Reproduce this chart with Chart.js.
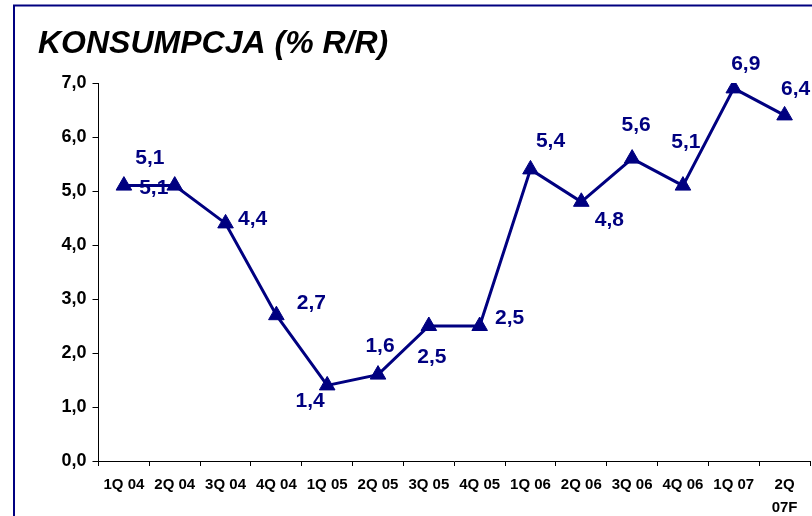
<!DOCTYPE html>
<html><head><meta charset="utf-8">
<script src="https://cdn.jsdelivr.net/npm/chart.js@4.4.1/dist/chart.umd.min.js"></script>
<style>
html,body{margin:0;padding:0;background:#fff;overflow:hidden;width:812px;height:516px;}
#wrap{position:absolute;left:0;top:0;width:820px;height:516px;}
canvas{display:block;}
</style></head><body>
<div id="wrap"><canvas id="c" width="820" height="516" style="width:820px;height:516px"></canvas></div>
<script>
const TITLE = 'KONSUMPCJA (% R/R)';
const categories = ['1Q 04','2Q 04','3Q 04','4Q 04','1Q 05','2Q 05','3Q 05','4Q 05','1Q 06','2Q 06','3Q 06','4Q 06','1Q 07',['2Q','07F']];
const values = [5.1, 5.1, 4.4, 2.7, 1.4, 1.6, 2.5, 2.5, 5.4, 4.8, 5.6, 5.1, 6.9, 6.4];
const yMin = 0, yMax = 7, yStep = 1;

// label placement relative to each point (pixels)
const labelOffsets = [[26,-27],[-21,3],[27,-4],[35,-12],[-17,16],[2,-28],[3,31],[30,-8],[20,-28],[28,18],[4,-33],[3,-43],[12,-24],[11,-26]];

const NAVY = '#000080';
const FONT = '"Liberation Sans", Arial, sans-serif';
const fmt = v => v.toFixed(1).replace('.', ',');

const framePlugin = {
  id: 'frame',
  beforeDraw(chart) {
    const ctx = chart.ctx;
    ctx.save();
    ctx.fillStyle = '#fff';
    ctx.fillRect(0, 0, chart.width, chart.height);
    ctx.strokeStyle = NAVY;
    ctx.lineWidth = 2;
    ctx.beginPath();
    ctx.moveTo(14, chart.height);
    ctx.lineTo(14, 5.5);
    ctx.lineTo(chart.width, 5.5);
    ctx.stroke();
    ctx.fillStyle = '#000';
    ctx.font = 'italic bold 32px ' + FONT;
    ctx.textBaseline = 'alphabetic';
    ctx.textAlign = 'left';
    ctx.fillText(TITLE, 38, 53);
    ctx.restore();
  }
};

const labelPlugin = {
  id: 'pointLabels',
  beforeDatasetsDraw(chart) {
    const ctx = chart.ctx;
    const meta = chart.getDatasetMeta(0);
    ctx.save();
    ctx.fillStyle = NAVY;
    ctx.font = 'bold 21px ' + FONT;
    ctx.textAlign = 'center';
    ctx.textBaseline = 'middle';
    meta.data.forEach((pt, i) => {
      const o = labelOffsets[i];
      ctx.fillText(fmt(values[i]), pt.x + o[0], pt.y + o[1]);
    });
    ctx.restore();
  }
};

new Chart(document.getElementById('c'), {
  type: 'line',
  data: {
    labels: categories,
    datasets: [{
      data: values,
      borderColor: NAVY,
      backgroundColor: NAVY,
      borderWidth: 3,
      pointStyle: 'triangle',
      pointRadius: 9,
      pointHoverRadius: 9,
      pointBackgroundColor: NAVY,
      pointBorderColor: NAVY,
      pointBorderWidth: 1,
      tension: 0,
      fill: false
    }]
  },
  options: {
    responsive: false,
    animation: false,
    devicePixelRatio: 1,
    layout: { padding: { left: 0, top: 83, right: 5.5, bottom: 0 } },
    plugins: { legend: { display: false }, title: { display: false }, tooltip: { enabled: false } },
    scales: {
      x: {
        offset: true,
        grid: { offset: true, drawOnChartArea: false, drawTicks: true, tickLength: 5, color: '#000', lineWidth: 1 },
        border: { display: true, color: '#000', width: 1 },
        ticks: { color: '#000', font: { family: FONT, size: 15, weight: 'bold', lineHeight: 1.5 }, padding: 8, maxRotation: 0, minRotation: 0, autoSkip: false },
        afterFit(s) { s.height = 55; }
      },
      y: {
        min: yMin, max: yMax,
        grid: { drawOnChartArea: false, drawTicks: true, tickLength: 6, color: '#000', lineWidth: 1 },
        border: { display: true, color: '#000', width: 1 },
        ticks: { stepSize: yStep, color: '#000', font: { family: FONT, size: 18, weight: 'bold' }, padding: 6, callback: v => fmt(v) },
        afterFit(s) { s.width = 98.5; }
      }
    }
  },
  plugins: [framePlugin, labelPlugin]
});
</script>
</body></html>
